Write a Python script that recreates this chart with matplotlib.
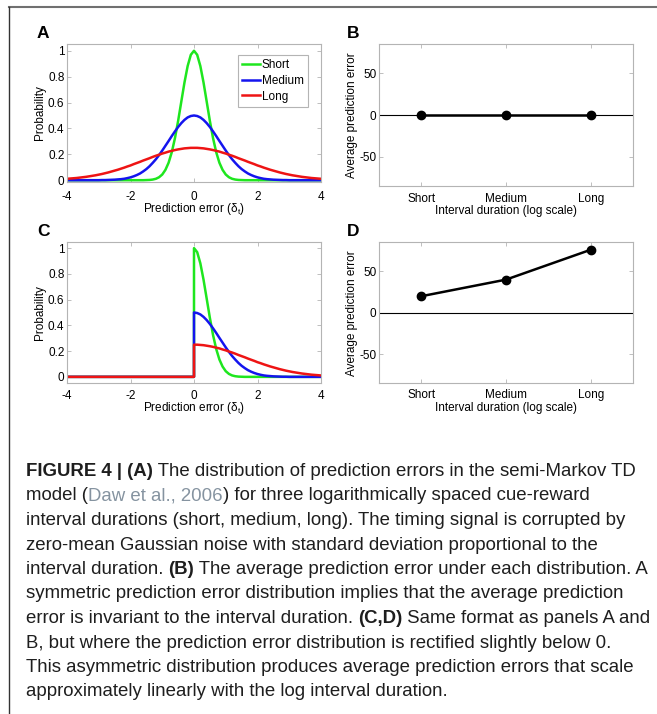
import numpy as np
import matplotlib
matplotlib.use('Agg')
import matplotlib.pyplot as plt
from matplotlib.lines import Line2D

plt.rcParams['font.family'] = ['Liberation Sans', 'DejaVu Sans']
plt.rcParams['axes.unicode_minus'] = False
plt.rcParams['mathtext.fontset'] = 'custom'
plt.rcParams['mathtext.rm'] = 'Liberation Sans'
plt.rcParams['mathtext.it'] = 'Liberation Sans:italic'

# prediction error grid (right half, curves are symmetric in A)
x_half = np.linspace(0, 4, 41)
short_half = [1.000, 0.969, 0.882, 0.755, 0.607, 0.458, 0.325, 0.216, 0.135, 0.080,
              0.044, 0.023, 0.011, 0.005, 0.002, 0.001] + [0.0]*25
medium_half = [0.500, 0.496, 0.485, 0.466, 0.441, 0.411, 0.377, 0.341, 0.303, 0.266,
               0.229, 0.194, 0.162, 0.134, 0.108, 0.086, 0.068, 0.052, 0.040, 0.030,
               0.022, 0.016, 0.011, 0.008, 0.006, 0.004, 0.003, 0.002, 0.001, 0.001] + [0.0]*11
long_half = [0.250, 0.250, 0.248, 0.246, 0.242, 0.238, 0.233, 0.227, 0.221, 0.213,
             0.206, 0.197, 0.189, 0.180, 0.170, 0.161, 0.152, 0.142, 0.133, 0.124,
             0.114, 0.106, 0.097, 0.089, 0.081, 0.074, 0.067, 0.060, 0.054, 0.048,
             0.043, 0.038, 0.034, 0.030, 0.026, 0.023, 0.020, 0.017, 0.015, 0.013, 0.011]
names = ['Short', 'Medium', 'Long']
colors = ['#1ee61e', '#1414ee', '#ee1414']
avg_sym = [0, 0, 0]
avg_rect = [20, 40, 76]

caption = [
    [('FIGURE 4 | (A)', 'b'), (' The distribution of prediction errors in the semi-Markov TD', 'n')],
    [('model (', 'n'), ('Daw et al., 2006', 'l'), (') for three logarithmically spaced cue-reward', 'n')],
    [('interval durations (short, medium, long). The timing signal is corrupted by', 'n')],
    [('zero-mean Gaussian noise with standard deviation proportional to the', 'n')],
    [('interval duration. ', 'n'), ('(B)', 'b'), (' The average prediction error under each distribution. A', 'n')],
    [('symmetric prediction error distribution implies that the average prediction', 'n')],
    [('error is invariant to the interval duration. ', 'n'), ('(C,D)', 'b'), (' Same format as panels A and', 'n')],
    [('B, but where the prediction error distribution is rectified slightly below 0.', 'n')],
    [('This asymmetric distribution produces average prediction errors that scale', 'n')],
    [('approximately linearly with the log interval duration.', 'n')],
]

W, H = 657, 714
fig = plt.figure(figsize=(W/100, H/100), dpi=100)
FS = 8.5

def box(l, t, r, b):
    return fig.add_axes([l/W, 1-b/H, (r-l)/W, (b-t)/H])

def style(ax, xpad):
    for s in ax.spines.values():
        s.set_color('#b4b4b4'); s.set_linewidth(0.8)
    ax.tick_params(direction='in', length=3, width=0.6, color='#b4b4b4', labelsize=FS,
                   top=True, right=True, labelcolor='black')
    ax.tick_params(axis='x', pad=xpad)
    ax.tick_params(axis='y', pad=1.8)

def dist_panel(ax, xs, ys, ylo, legend, xpad, lpad):
    for y, c, n in zip(ys, colors, names):
        ax.plot(xs, y, color=c, lw=1.8, label=n)
    ax.set_xlim(-4, 4); ax.set_ylim(ylo, 1.05)
    ax.set_xticks([-4, -2, 0, 2, 4]); ax.set_yticks([0, 0.2, 0.4, 0.6, 0.8, 1])
    ax.set_yticklabels(['0', '0.2', '0.4', '0.6', '0.8', '1'])
    ax.set_xlabel('Prediction error (δ$_\\mathregular{t}$)', fontsize=FS, labelpad=lpad)
    ax.set_ylabel('Probability', fontsize=FS, labelpad=1.5)
    style(ax, xpad)
    if legend:
        lg = ax.legend(loc='upper right', bbox_to_anchor=(1-13/254, 1-11/137), borderaxespad=0,
                       fontsize=FS, handlelength=1.5, handletextpad=0.2, labelspacing=0.3,
                       borderpad=0.35, fancybox=False, framealpha=1)
        lg.get_frame().set_edgecolor('#b4b4b4'); lg.get_frame().set_linewidth(0.8)

def avg_panel(ax, vals, xpad, lpad):
    ax.axhline(0, color='black', lw=0.8)
    ax.plot([1, 2, 3], vals, 'k-o', lw=1.8, ms=6)
    ax.set_xlim(0.5, 3.5); ax.set_ylim(-85, 85)
    ax.set_xticks([1, 2, 3]); ax.set_xticklabels(names)
    ax.set_yticks([-50, 0, 50])
    ax.set_xlabel('Interval duration (log scale)', fontsize=FS, labelpad=lpad)
    ax.set_ylabel('Average prediction error', fontsize=FS, labelpad=1)
    style(ax, xpad)

xa = np.concatenate([-x_half[:0:-1], x_half])
ya = [np.concatenate([np.array(h)[:0:-1], h]) for h in (short_half, medium_half, long_half)]
xc = np.concatenate([[-4, 0], x_half])
yc = [np.concatenate([[0, 0], h]) for h in (short_half, medium_half, long_half)]

dist_panel(box(67, 44.3, 321, 181.5), xa, ya, -0.01, True, 6.5, -1)
avg_panel(box(379, 44.3, 633, 185.7), avg_sym, 5, 0.5)
dist_panel(box(67, 241.7, 321, 383.3), xc, yc, -0.05, False, 4.5, -1)
avg_panel(box(379, 242.3, 633, 383.3), avg_rect, 4, 1)

for lab, px, py in [('A', 37, 33), ('B', 346.5, 33), ('C', 37, 232), ('D', 346.5, 231)]:
    fig.text(px/W, 1-py/H, lab, fontsize=12.5, fontweight='bold', va='center', ha='left')

# frame
fig.add_artist(Line2D([9/W, 1], [1-7/H, 1-7/H], color='#707070', lw=1.5, transform=fig.transFigure))
fig.add_artist(Line2D([9/W, 9/W], [0, 1-7/H], color='#333333', lw=1.0, transform=fig.transFigure))

# caption, one text piece after another
capfont = ['Liberation Sans', 'DejaVu Sans']
r = fig.canvas.get_renderer()
probe = fig.text(0, 0, ''.join(p[0] for p in caption[0]), fontsize=10, family=capfont)
size = 10*614/probe.get_window_extent(r).width
probe.remove()
for i, line in enumerate(caption):
    x = 26
    y = 476 + i*24.5
    for txt, kind in line:
        t = fig.text(x/W, 1-y/H, txt, fontsize=size, family=capfont, va='baseline',
                     fontweight='bold' if kind == 'b' else 'normal',
                     color='#8593a0' if kind == 'l' else '#1e1e1e')
        x += t.get_window_extent(r).width

fig.savefig('out.png', dpi=100)
